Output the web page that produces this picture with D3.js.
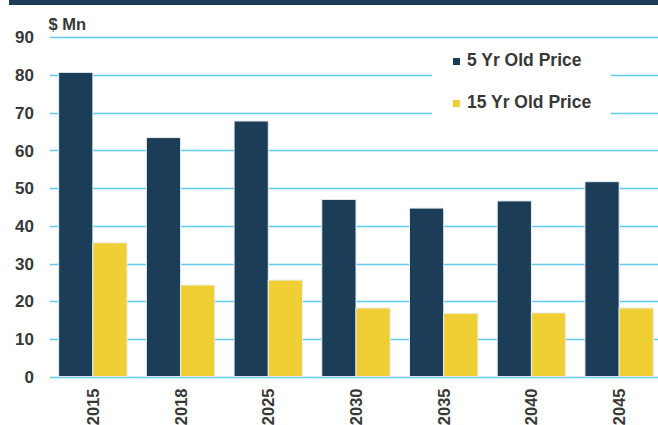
<!DOCTYPE html>
<html>
<head>
<meta charset="utf-8">
<script src="https://cdn.jsdelivr.net/npm/d3@7"></script>
<style>
  html, body { margin: 0; padding: 0; background: #fff; }
  svg { display: block; font-family: Arial, "Liberation Sans", sans-serif; }
</style>
</head>
<body>
<svg id="chart" width="658" height="425"></svg>
<script>
const categories = ["2015", "2018", "2025", "2030", "2035", "2040", "2045"];
const seriesNames = ["5 Yr Old Price", "15 Yr Old Price"];
const fiveYrOld = [80.7, 63.4, 67.8, 47.0, 44.7, 46.6, 51.7];
const fifteenYrOld = [35.5, 24.3, 25.6, 18.2, 16.8, 16.9, 18.2];
const yTicks = [0, 10, 20, 30, 40, 50, 60, 70, 80, 90];
const colors = ["#1b3d57", "#f0cf35"];

const svg = d3.select("#chart");

// top banner
svg.append("rect").attr("x", 9).attr("y", 0).attr("width", 649).attr("height", 5).attr("fill", "#1c3d57");

const y = d3.scaleLinear().domain([0, 90]).range([376.6, 37.3]);
const x = d3.scaleBand().domain(categories).range([49, 663]).paddingInner(0.22).paddingOuter(0.11);
const xs = d3.scaleBand().domain(seriesNames).range([0, x.bandwidth()]).padding(0);

// gridlines
svg.append("g").selectAll("line").data(yTicks).join("line")
  .attr("x1", 50).attr("x2", 658)
  .attr("y1", d => Math.round(y(d)) + 0.5).attr("y2", d => Math.round(y(d)) + 0.5)
  .attr("stroke", "#62caef").attr("stroke-width", 1.3);

// y tick labels
svg.append("g").selectAll("text").data(yTicks).join("text")
  .attr("x", 34).attr("y", d => y(d)).attr("dy", "0.36em")
  .attr("text-anchor", "end")
  .attr("font-size", 17).attr("font-weight", "bold").attr("fill", "#383838")
  .text(d => d);

svg.append("text").attr("x", 48.5).attr("y", 30)
  .attr("font-size", 16.5).attr("font-weight", "bold").attr("fill", "#383838")
  .text("$ Mn");

// bars
const data = categories.map((c, i) => ({ cat: c, vals: [fiveYrOld[i], fifteenYrOld[i]] }));
const groups = svg.append("g").selectAll("g").data(data).join("g")
  .attr("transform", d => `translate(${x(d.cat)},0)`);
groups.selectAll("rect").data(d => d.vals.map((v, j) => ({ v, s: seriesNames[j], j }))).join("rect")
  .attr("x", d => xs(d.s))
  .attr("y", d => y(d.v))
  .attr("width", xs.bandwidth())
  .attr("height", d => y(0) - y(d.v))
  .attr("fill", d => colors[d.j])
  .attr("stroke", "#e8eef2").attr("stroke-width", 1);

// x labels
svg.append("g").selectAll("text").data(categories).join("text")
  .attr("transform", d => `translate(${x(d) + x.bandwidth() / 2 + 6},388.5) rotate(-90)`)
  .attr("text-anchor", "end")
  .attr("font-size", 16.5).attr("font-weight", "bold").attr("fill", "#383838")
  .text(d => d);

// legend
svg.append("rect").attr("x", 432).attr("y", 44).attr("width", 179).attr("height", 80).attr("fill", "#fff");
const leg = svg.append("g").selectAll("g").data(seriesNames).join("g")
  .attr("transform", (d, i) => `translate(453,${58 + i * 42})`);
leg.append("rect").attr("x", 0).attr("y", 0).attr("width", 7).attr("height", 7)
  .attr("fill", (d, i) => colors[i]);
leg.append("text").attr("x", 14).attr("y", 8)
  .attr("font-size", 17.5).attr("font-weight", "bold").attr("fill", "#383838")
  .text(d => d);
</script>
</body>
</html>
